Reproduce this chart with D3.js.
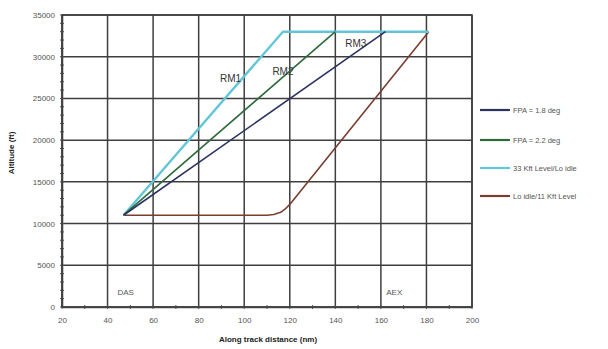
<!DOCTYPE html>
<html>
<head>
<meta charset="utf-8">
<script src="https://cdn.jsdelivr.net/npm/d3@7"></script>
<style>
  body { margin: 0; background: #fff; }
  svg { font-family: "Liberation Sans", Arial, sans-serif; }
</style>
</head>
<body>
<svg id="chart" width="608" height="349"></svg>
<script>
"use strict";

// data
var xTicks = [20, 40, 60, 80, 100, 120, 140, 160, 180, 200];
var yTicks = [0, 5000, 10000, 15000, 20000, 25000, 30000, 35000];

var fpa18Dist = [47, 162];
var fpa18Alt = [11000, 33000];

var fpa22Dist = [47, 140];
var fpa22Alt = [11000, 33000];

var levelDist = [47, 117, 181];
var levelAlt = [11000, 33000, 33000];

var idleDist = [47, 110, 113, 116, 118, 120, 181];
var idleAlt = [11000, 11000, 11080, 11350, 11750, 12300, 33000];

var seriesNames = ["FPA = 1.8 deg", "FPA = 2.2 deg", "33 Kft Level/Lo idle", "Lo idle/11 Kft Level"];
var seriesColors = ["#2d3361", "#2f6a3c", "#62c6d8", "#7a3d30"];
var seriesWidths = [1.6, 1.6, 2.4, 1.6];

var rmLabels = ["RM1", "RM2", "RM3"];
var rmDist = [94, 117, 149];
var rmAlt = [27000, 27800, 31200];

var airportNames = ["DAS", "AEX"];
var airportDist = [47, 165];

var svg = d3.select("#chart");

var plot = { left: 62, right: 472, top: 15, bottom: 307 };

var xScale = d3.scaleLinear()
    .domain([20, 200])
    .range([plot.left, plot.right]);

var yScale = d3.scaleLinear()
    .domain([0, 35000])
    .range([plot.bottom, plot.top]);

// grid
var grid = svg.append("g").attr("class", "grid");
grid.selectAll(".vline")
    .data(xTicks)
    .enter()
    .append("line")
    .attr("x1", function (d) { return xScale(d); })
    .attr("x2", function (d) { return xScale(d); })
    .attr("y1", plot.top)
    .attr("y2", plot.bottom)
    .style("stroke", "#3e3e3e")
    .style("stroke-width", 1.5);

grid.selectAll(".hline")
    .data(yTicks)
    .enter()
    .append("line")
    .attr("x1", plot.left)
    .attr("x2", plot.right)
    .attr("y1", function (d) { return yScale(d); })
    .attr("y2", function (d) { return yScale(d); })
    .style("stroke", "#3e3e3e")
    .style("stroke-width", 1.5);

// minor ticks on the axes
var yMinor = d3.range(0, 35001, 1000);
svg.append("g").selectAll("line")
    .data(yMinor)
    .enter()
    .append("line")
    .attr("x1", plot.left - 2)
    .attr("x2", plot.left + 2)
    .attr("y1", function (d) { return yScale(d); })
    .attr("y2", function (d) { return yScale(d); })
    .style("stroke", "#555")
    .style("stroke-width", 1);

var xMinor = d3.range(20, 201, 10);
svg.append("g").selectAll("line")
    .data(xMinor)
    .enter()
    .append("line")
    .attr("x1", function (d) { return xScale(d); })
    .attr("x2", function (d) { return xScale(d); })
    .attr("y1", plot.bottom - 2)
    .attr("y2", plot.bottom + 2)
    .style("stroke", "#555")
    .style("stroke-width", 1);

// axes
var xAxis = svg.append("g")
    .attr("transform", "translate(0," + plot.bottom + ")")
    .call(d3.axisBottom(xScale).tickValues(xTicks).tickSize(0).tickPadding(10));

var yAxis = svg.append("g")
    .attr("transform", "translate(" + plot.left + ",0)")
    .call(d3.axisLeft(yScale).tickValues(yTicks).tickFormat(d3.format("d")).tickSize(0).tickPadding(7));

[xAxis, yAxis].forEach(function (ax) {
    ax.select(".domain").style("stroke", "#555").style("stroke-width", 1.6);
    ax.selectAll("text")
        .style("font-size", "8px")
        .style("fill", "#555");
});

// frame right and top
svg.append("rect")
    .attr("x", plot.left)
    .attr("y", plot.top)
    .attr("width", plot.right - plot.left)
    .attr("height", plot.bottom - plot.top)
    .style("fill", "none")
    .style("stroke", "#3e3e3e")
    .style("stroke-width", 1.5);

// series
var line = d3.line()
    .x(function (d) { return xScale(d[0]); })
    .y(function (d) { return yScale(d[1]); });

var series = [
    d3.zip(fpa18Dist, fpa18Alt),
    d3.zip(fpa22Dist, fpa22Alt),
    d3.zip(levelDist, levelAlt),
    d3.zip(idleDist, idleAlt)
];

// draw brown first, cyan, green, navy on top
[3, 2, 1, 0].forEach(function (i) {
    svg.append("path")
        .datum(series[i])
        .attr("d", line)
        .style("fill", "none")
        .style("stroke", seriesColors[i])
        .style("stroke-width", seriesWidths[i])
        .style("stroke-linejoin", "round");
});

// RM labels
svg.append("g").selectAll("text")
    .data(rmLabels)
    .enter()
    .append("text")
    .attr("x", function (d, i) { return xScale(rmDist[i]); })
    .attr("y", function (d, i) { return yScale(rmAlt[i]); })
    .attr("text-anchor", "middle")
    .style("font-size", "10px")
    .style("fill", "#333")
    .text(function (d) { return d; });

// airport labels
svg.append("g").selectAll("text")
    .data(airportNames)
    .enter()
    .append("text")
    .attr("x", function (d, i) { return xScale(airportDist[i]) - 6; })
    .attr("y", plot.bottom - 12)
    .style("font-size", "8px")
    .style("fill", "#555")
    .text(function (d) { return d; });

// axis titles
svg.append("text")
    .attr("x", 268)
    .attr("y", 342)
    .attr("text-anchor", "middle")
    .style("font-size", "8px")
    .style("font-weight", "bold")
    .style("fill", "#222")
    .text("Along track distance (nm)");

svg.append("text")
    .attr("transform", "translate(14,153) rotate(-90)")
    .attr("text-anchor", "middle")
    .style("font-size", "8px")
    .style("font-weight", "bold")
    .style("fill", "#222")
    .text("Altitude (ft)");

// legend
var legendY = [110, 140, 168, 196];
var legend = svg.append("g").selectAll("g")
    .data(seriesNames)
    .enter()
    .append("g")
    .attr("transform", function (d, i) { return "translate(480," + legendY[i] + ")"; });

legend.append("line")
    .attr("x1", 0)
    .attr("x2", 30)
    .style("stroke", function (d, i) { return seriesColors[i]; })
    .style("stroke-width", 2.2);

legend.append("text")
    .attr("x", 33)
    .attr("y", 2.5)
    .style("font-size", "7.5px")
    .style("fill", "#555")
    .text(function (d) { return d; });
</script>
</body>
</html>
